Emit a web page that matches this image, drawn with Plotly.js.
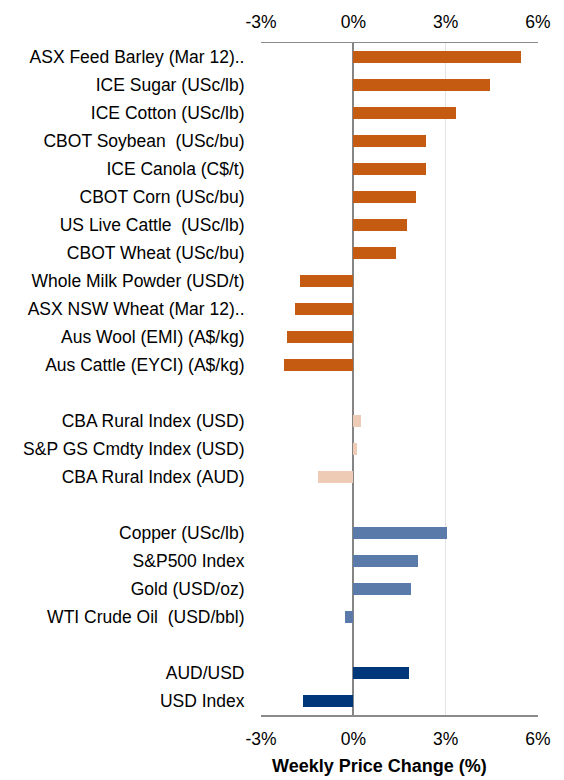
<!DOCTYPE html>
<html>
<head>
<meta charset="utf-8">
<script src="https://cdn.plot.ly/plotly-3.0.1.min.js"></script>
<style>html,body{margin:0;padding:0;background:#fff;}#chart{width:564px;height:780px;}</style>
</head>
<body>
<div id="chart"></div>
<script>
// Row labels (empty strings are spacer rows between groups)
const labels = [
  "ASX Feed Barley (Mar 12)..",
  "ICE Sugar (USc/lb)",
  "ICE Cotton (USc/lb)",
  "CBOT Soybean  (USc/bu)",
  "ICE Canola (C$/t)",
  "CBOT Corn (USc/bu)",
  "US Live Cattle  (USc/lb)",
  "CBOT Wheat (USc/bu)",
  "Whole Milk Powder (USD/t)",
  "ASX NSW Wheat (Mar 12)..",
  "Aus Wool (EMI) (A$/kg)",
  "Aus Cattle (EYCI) (A$/kg)",
  "",
  "CBA Rural Index (USD)",
  "S&P GS Cmdty Index (USD)",
  "CBA Rural Index (AUD)",
  "",
  "Copper (USc/lb)",
  "S&P500 Index",
  "Gold (USD/oz)",
  "WTI Crude Oil  (USD/bbl)",
  "",
  "AUD/USD",
  "USD Index"
];
// Weekly price change (%)
const values = [
  5.44, 4.43, 3.32, 2.36, 2.36, 2.02, 1.73, 1.38, -1.73, -1.91, -2.15, -2.26,
  null,
  0.24, 0.11, -1.14,
  null,
  3.04, 2.10, 1.88, -0.26,
  null,
  1.82, -1.63
];
const groups = [
  "ag","ag","ag","ag","ag","ag","ag","ag","ag","ag","ag","ag",
  "",
  "index","index","index",
  "",
  "market","market","market","market",
  "",
  "fx","fx"
];
const xTickVals = [-3, 0, 3, 6];
const xTickText = ["-3%", "0%", "3%", "6%"];
const xTitle = "Weekly Price Change (%)";

const groupColors = {ag: "#C55A11", index: "#EECBB4", market: "#5A7BAA", fx: "#00367A", "": "rgba(0,0,0,0)"};
const positions = labels.map((_, i) => i);

const fam = "Liberation Sans, Arial, sans-serif";
const font = {family: fam, size: 17.5, color: "#000"};

const trace = {
  type: "bar",
  orientation: "h",
  x: values,
  y: positions,
  width: 0.45,
  marker: {color: groups.map(g => groupColors[g]), line: {width: 0}},
  hoverinfo: "skip",
  xaxis: "x",
  yaxis: "y"
};

const xRange = [-3, 6];
const layout = {
  width: 564,
  height: 780,
  margin: {l: 261, r: 26, t: 43, b: 65},
  paper_bgcolor: "#fff",
  plot_bgcolor: "#fff",
  showlegend: false,
  font: font,
  bargap: 0,
  xaxis: {
    range: xRange,
    tickvals: xTickVals,
    ticktext: xTickText,
    showgrid: true,
    gridcolor: "#E3E3E3",
    gridwidth: 1.5,
    zeroline: true,
    zerolinecolor: "#858585",
    zerolinewidth: 2,
    showline: true,
    mirror: true,
    linecolor: "#8A8A8A",
    linewidth: 1.5,
    ticks: "outside",
    ticklen: 7,
    tickcolor: "rgba(0,0,0,0)",
    tickfont: font,
    fixedrange: true
  },
  xaxis2: {
    overlaying: "x",
    side: "top",
    anchor: "y",
    range: xRange,
    tickvals: xTickVals,
    ticktext: xTickText,
    showgrid: false,
    zeroline: false,
    showline: false,
    ticks: "outside",
    ticklen: 7,
    tickcolor: "rgba(0,0,0,0)",
    tickfont: font,
    fixedrange: true
  },
  yaxis: {
    range: [labels.length - 0.5, -0.5],
    tickvals: positions,
    ticktext: labels,
    showgrid: false,
    zeroline: false,
    showline: false,
    ticks: "outside",
    ticklen: 12,
    tickcolor: "rgba(0,0,0,0)",
    tickfont: font,
    fixedrange: true
  },
  annotations: [{
    text: "<b>" + xTitle + "</b>",
    xref: "paper", yref: "paper",
    x: 0.426, y: -0.076,
    xanchor: "center", yanchor: "middle",
    showarrow: false,
    borderpad: 0,
    font: {family: fam, size: 18, color: "#000"}
  }]
};

const ghost = {
  type: "scatter",
  mode: "none",
  x: xRange,
  y: [positions[0], positions[0]],
  xaxis: "x2",
  yaxis: "y",
  hoverinfo: "skip",
  showlegend: false
};

Plotly.newPlot("chart", [trace, ghost], layout, {displayModeBar: false, staticPlot: true});
</script>
</body>
</html>
